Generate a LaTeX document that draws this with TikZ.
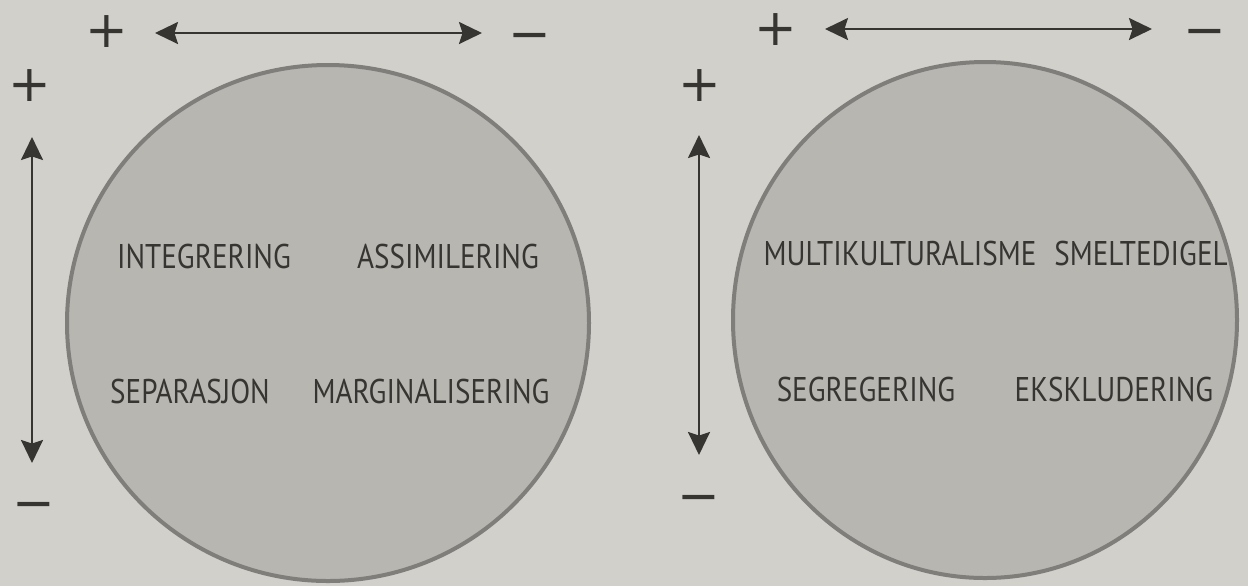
\documentclass[tikz,border=0pt]{standalone}
\usepackage{fontspec}
\setmainfont{PT Sans}[FakeStretch=0.85]
\newfontfamily\signfont{DejaVu Sans}
\usepackage{xcolor}
\usepackage{tikz}
\usetikzlibrary{arrows.meta,positioning}

\definecolor{paper}{RGB}{210,208,203}
\definecolor{disc}{RGB}{184,182,177}
\definecolor{rim}{RGB}{128,126,122}
\definecolor{ink}{RGB}{55,53,50}

\tikzset{
    term/.style={text=ink,inner sep=0pt,font=\fontsize{19.5}{22}\selectfont},
    sign/.style={text=ink,inner sep=0pt,font=\signfont\fontsize{29}{29}\selectfont},
    axis/.style={draw=ink,line width=0.045cm,
        {Stealth[length=0.46cm,width=0.44cm,inset=0.07cm]}-{Stealth[length=0.46cm,width=0.44cm,inset=0.07cm]}},
    disk/.style={fill=disc,draw=rim,line width=0.08cm}
}

\begin{document}
\begin{tikzpicture}[x=0.02cm,y=-0.02cm]
    \useasboundingbox[fill=paper] (0,0) rectangle (1248,586);
    % left figure
    \draw[disk] (328,323) ellipse (261 and 258);
    \node[sign] (lpt) at (107,32) {+};
    \node[sign] (lmt) at (530,42) {−};
    \node[sign] (lps) at (30,86) {+};
    \node[sign] (lms) at (34,511) {−};
    \coordinate (la1) at (155,33);
    \coordinate (la2) at (482,33);
    \coordinate (lb1) at (32,137);
    \coordinate (lb2) at (32,463);
    \draw[axis] (la1) -- (la2);
    \draw[axis] (lb1) -- (lb2);
    \node[term] (integr) at (204,256) {INTEGRERING};
    \node[term] (assim) at (448,256) {ASSIMILERING};
    \node[term] (separ) at (190,391) {SEPARASJON};
    \node[term] (margin) at (431,391) {MARGINALISERING};
    % right figure
    \draw[disk] (985,320) ellipse (252 and 258);
    \node[sign] (rpt) at (776,30) {+};
    \node[sign] (rmt) at (1205,38) {−};
    \node[sign] (rps) at (700,86) {+};
    \node[sign] (rms) at (699,504) {−};
    \coordinate (ra1) at (825,29);
    \coordinate (ra2) at (1152,29);
    \coordinate (rb1) at (699,135);
    \coordinate (rb2) at (699,455);
    \draw[axis] (ra1) -- (ra2);
    \draw[axis] (rb1) -- (rb2);
    \node[term] (multi) at (900,253) {MULTIKULTURALISME};
    \node[term] (smelt) at (1141,253) {SMELTEDIGEL};
    \node[term] (segr) at (866,389) {SEGREGERING};
    \node[term] (ekskl) at (1114,389) {EKSKLUDERING};
\end{tikzpicture}
\end{document}
